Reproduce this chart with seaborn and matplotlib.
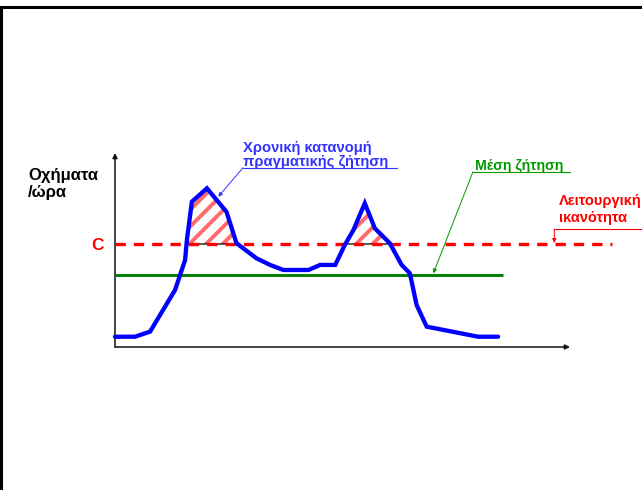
import numpy as np
import matplotlib
matplotlib.use("Agg")
import matplotlib.pyplot as plt
from matplotlib.lines import Line2D
import seaborn as sns

# ---- data ----
time = [0, 4.4, 7.7, 13.2, 15.4, 15.8, 16.9, 20.2, 24.5, 26.7, 31.1, 34.1,
        37.0, 42.5, 45.1, 48.4, 50.5, 52.4, 54.9, 57.1, 60.4, 63.0, 64.8,
        66.3, 68.5, 79.8, 84.2]
demand = [5.3, 5.3, 7.9, 29.4, 44.8, 55.2, 74.9, 81.8, 69.7, 53.5, 45.7, 42.3,
          39.7, 39.7, 42.3, 42.3, 52.6, 60.3, 74.1, 61.2, 53.5, 42.3, 38.0,
          21.6, 10.5, 5.3, 5.3]
capacity = 53.1          # C
mean_demand = 37.1       # average demand

ylabel_lines = ["Οχήματα", "/ώρα"]
capacity_label = "C"
demand_label = ["Χρονική κατανομή", "πραγματικής ζήτηση"]
mean_label = "Μέση ζήτηση"
capacity_text = ["Λειτουργική", "ικανότητα"]

# ---- style ----
sns.set_theme(style="white")
plt.rcParams["font.family"] = ["Liberation Sans", "DejaVu Sans"]
plt.rcParams["hatch.linewidth"] = 2.8

W, H = 642, 490
fig = plt.figure(figsize=(W / 100, H / 100), dpi=100)
fig.patch.set_facecolor("white")

def fp(x, y):
    """pixel position measured from the top-left corner -> figure pixels"""
    return (x, H - y)

# axes area (pixel box of the drawn axes)
ax_l, ax_r, ax_t, ax_b = 115, 570, 153, 347
ax = fig.add_axes([ax_l / W, (H - ax_b) / H, (ax_r - ax_l) / W, (ax_b - ax_t) / H])
ax.set_xlim(0, 100)
ax.set_ylim(0, 100)
ax.set_axis_off()

def px_to_t(px):
    return (px - ax_l) / (ax_r - ax_l) * 100

# hatched excess demand areas
t = np.array(time, dtype=float)
d = np.array(demand, dtype=float)
ax.fill_between(t, d, capacity, where=d >= capacity, interpolate=True,
                facecolor="white", edgecolor="#ff6a6a", hatch="//",
                linewidth=0, zorder=2)
ax.fill_between(t, d, capacity, where=d >= capacity, interpolate=True,
                facecolor="none", edgecolor="black", linewidth=0.9, zorder=3)

# mean demand line
ax.plot([0, px_to_t(503)], [mean_demand, mean_demand], color="#008000",
        lw=2.1, clip_on=False, zorder=4, solid_capstyle="butt")
# capacity dashed line
ax.plot([0, px_to_t(612)], [capacity, capacity], color="#ff0000", lw=2.4,
        dashes=(3.1, 2.4), clip_on=False, zorder=4)

# demand curve
sns.lineplot(x=time, y=demand, ax=ax, color="#0000ff", lw=3.1, sort=False,
             estimator=None, zorder=5)
ax.lines[-1].set_clip_on(False)
ax.lines[-1].set_solid_joinstyle("miter")
if ax.get_legend():
    ax.get_legend().remove()
ax.set_xlim(0, 100)
ax.set_ylim(0, 100)

# axes with arrows
arrow_kw = dict(arrowstyle="-|>", color="#111111", lw=1.1, mutation_scale=7,
                shrinkA=0, shrinkB=0)
ax.annotate("", xy=(0, 1), xytext=(0, 0), xycoords="axes fraction",
            arrowprops=arrow_kw)
ax.annotate("", xy=(1, 0), xytext=(0, 0), xycoords="axes fraction",
            arrowprops=arrow_kw)

# ---- texts ----
bold = dict(fontweight="bold")
fig.text(*fp(28, 179.5), ylabel_lines[0], transform=None, fontsize=12,
         color="black", va="baseline", ha="left", **bold)
fig.text(*fp(28, 197), ylabel_lines[1], transform=None, fontsize=12,
         color="black", va="baseline", ha="left", **bold)
fig.text(*fp(97, 245), capacity_label, transform=None, fontsize=12.5,
         color="#ff0000", va="center", ha="center", **bold)

blue_txt = "#3333ff"
fig.text(*fp(243, 151.5), demand_label[0], transform=None, fontsize=10.6,
         color=blue_txt, va="baseline", ha="left", **bold)
fig.text(*fp(243, 166), demand_label[1], transform=None, fontsize=10.6,
         color=blue_txt, va="baseline", ha="left", **bold)

green_txt = "#009900"
fig.text(*fp(475, 170), mean_label, transform=None, fontsize=10.2,
         color=green_txt, va="baseline", ha="left", **bold)

fig.text(*fp(559, 205), capacity_text[0], transform=None, fontsize=10.5,
         color="#ff0000", va="baseline", ha="left", **bold)
fig.text(*fp(559, 222.3), capacity_text[1], transform=None, fontsize=10.5,
         color="#ff0000", va="baseline", ha="left", **bold)

# ---- callout lines ----
def hline(x0, x1, y, color):
    fig.add_artist(Line2D([x0, x1], [H - y, H - y], transform=None,
                          color=color, lw=0.8))

def leader(x0, y0, x1, y1, color):
    fig.add_artist(matplotlib.patches.FancyArrowPatch(
        fp(x0, y0), fp(x1, y1), transform=None, arrowstyle="-|>",
        mutation_scale=6, color=color, lw=0.7, shrinkA=0, shrinkB=0))

hline(243, 396.7, 167.7, blue_txt)
leader(243, 167.7, 218.3, 196.7, blue_txt)

hline(473, 570, 171.7, green_txt)
leader(473, 171.7, 433.3, 273.3, green_txt)

hline(554.3, 642, 229.3, "#ff0000")
leader(554.3, 229.3, 554.3, 243, "#ff0000")

# slide border (top and left)
fig.add_artist(Line2D([0, W], [H - 6.5, H - 6.5], transform=None,
                      color="black", lw=2.2))
fig.add_artist(Line2D([1, 1], [0, H - 6.5], transform=None,
                      color="black", lw=2.2))

fig.savefig("out.png", dpi=100, facecolor="white")
